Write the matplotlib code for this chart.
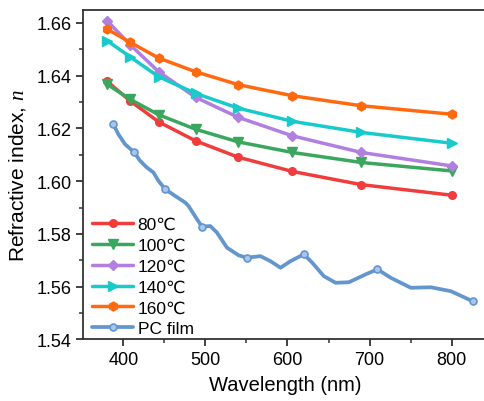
import matplotlib
matplotlib.use("Agg")
import matplotlib.pyplot as plt
from matplotlib.ticker import MultipleLocator

plt.rcParams['font.family'] = ['Liberation Sans', 'DejaVu Sans']
plt.rcParams['mathtext.fontset'] = 'custom'
plt.rcParams['mathtext.it'] = 'Liberation Serif:italic'
plt.rcParams['mathtext.rm'] = 'Liberation Sans'

# Sampled wavelengths for the annealed films (nm)
wavelength = [380, 408, 443, 488, 540, 606, 690, 800]

n_80 = [1.6379, 1.6305, 1.6225, 1.6153, 1.6091, 1.6037, 1.5987, 1.5947]
n_100 = [1.6368, 1.6311, 1.6252, 1.6197, 1.6149, 1.6109, 1.6071, 1.6039]
n_120 = [1.6609, 1.6518, 1.6415, 1.6318, 1.6242, 1.6172, 1.6109, 1.6058]
n_140 = [1.6533, 1.6472, 1.6396, 1.6333, 1.6277, 1.6227, 1.6185, 1.6144]
n_160 = [1.6577, 1.6527, 1.6467, 1.6415, 1.6366, 1.6324, 1.6286, 1.6254]

# Bare PC film dispersion
pc_wavelength = [387.8, 393.9, 402.1, 413.4, 420.4, 428.6, 436.7, 442.8, 450.9,
                 463.2, 475.4, 479.4, 489.7, 495.8, 505.9, 514.1, 526.3, 540.5,
                 550.8, 567.0, 579.2, 591.5, 603.7, 619.9, 630.2, 644.3, 658.6,
                 674.9, 695.3, 709.6, 725.8, 750.3, 774.7, 799.2, 825.7]
pc_n = [1.6216, 1.6178, 1.6140, 1.6109, 1.6077, 1.6052, 1.6033, 1.6001, 1.5970,
        1.5944, 1.5919, 1.5906, 1.5856, 1.5828, 1.5830, 1.5805, 1.5748, 1.5719,
        1.5710, 1.5716, 1.5697, 1.5672, 1.5697, 1.5723, 1.5691, 1.5640, 1.5615,
        1.5617, 1.5647, 1.5666, 1.5634, 1.5596, 1.5598, 1.5583, 1.5545]
pc_marked = [0, 3, 8, 13, 18, 23, 29, 34]

labels = ['80℃', '100℃', '120℃', '140℃', '160℃', 'PC film']
colors = ['#F03C3C', '#3AA65E', '#B07FE0', '#19CACA', '#FF6A10', '#6496CE']
markers = ['o', 'v', 'D', '>', 'h']
msizes = [5.5, 6.5, 5.5, 6.5, 6.5]

fig = plt.figure(figsize=(4.84, 4.02), dpi=100)
ax = fig.add_axes([0.1715, 0.153, 0.8345, 0.8196])

for ys, lab, c, m, ms in zip([n_80, n_100, n_120, n_140, n_160],
                             labels[:5], colors[:5], markers, msizes):
    ax.plot(wavelength, ys, color=c, lw=2.5, marker=m, ms=ms,
            markeredgecolor=c, label=lab, solid_capstyle='round')

ax.plot(pc_wavelength, pc_n, color=colors[5], lw=2.7, marker='o', ms=5,
        markevery=pc_marked, markerfacecolor='#A9C6EA',
        markeredgecolor=colors[5], markeredgewidth=1.2, label=labels[5],
        solid_joinstyle='round', solid_capstyle='round')

ax.set_xlim(350.8, 843)
ax.set_ylim(1.54, 1.6649)
ax.xaxis.set_major_locator(MultipleLocator(100))
ax.xaxis.set_minor_locator(MultipleLocator(50))
ax.yaxis.set_major_locator(MultipleLocator(0.02))
ax.yaxis.set_minor_locator(MultipleLocator(0.01))
ax.yaxis.set_major_formatter(matplotlib.ticker.FormatStrFormatter('%.2f'))

ax.spines['right'].set_visible(False)
for s in ax.spines.values():
    s.set_linewidth(1.3)
    s.set_color('#333333')
ax.tick_params(which='major', direction='out', length=5, width=1.3,
               labelsize=13, colors='#333333', labelcolor='black', pad=3)
ax.tick_params(which='minor', direction='out', length=3, width=1.1,
               colors='#333333')
ax.tick_params(axis='y', which='both', right=False)

ax.set_xlabel('Wavelength (nm)', fontsize=14.5, labelpad=5)
ax.set_ylabel('Refractive index, $n$', fontsize=15, labelpad=6)

ax.legend(loc='lower left', bbox_to_anchor=(0.0, -0.017), frameon=False,
          fontsize=12.5, handlelength=2.4, handletextpad=0.25,
          labelspacing=0.33, borderpad=0.3, borderaxespad=0.2)

fig.savefig('out.png', dpi=100)
